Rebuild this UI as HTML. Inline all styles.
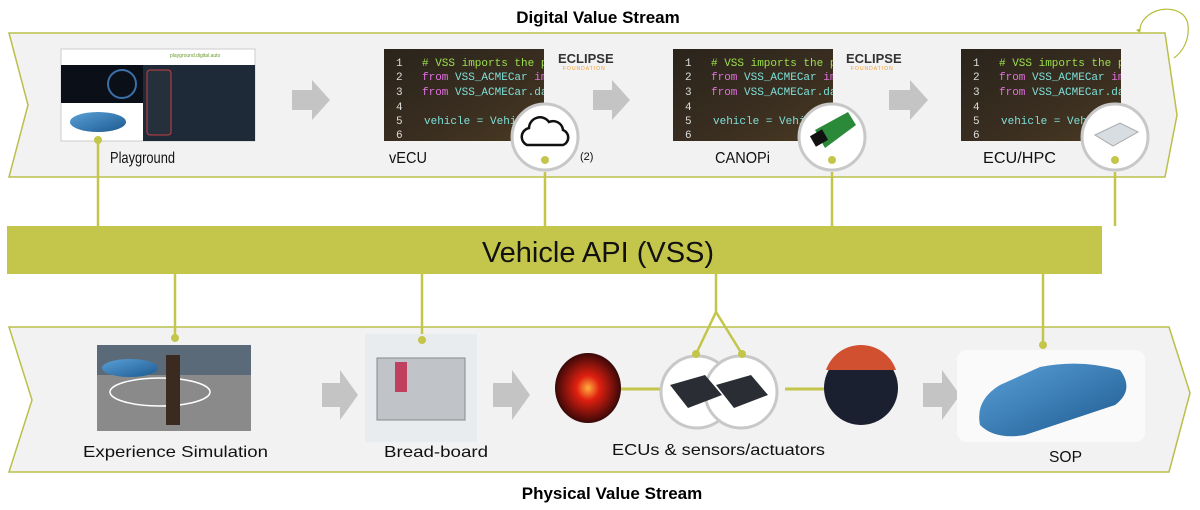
<!DOCTYPE html>
<html><head><meta charset="utf-8"><style>
html,body{margin:0;padding:0;background:#fff;}
svg{display:block;font-family:"Liberation Sans",sans-serif;}
</style></head><body>
<svg width="1200" height="510" viewBox="0 0 1200 510" xmlns="http://www.w3.org/2000/svg">
<defs>
<linearGradient id="code" x1="0" y1="0" x2="1" y2="1"><stop offset="0" stop-color="#2a241c"/><stop offset="0.6" stop-color="#3a2e20"/><stop offset="1" stop-color="#4a3a22"/></linearGradient>
<radialGradient id="red"><stop offset="0" stop-color="#ffb040"/><stop offset="0.35" stop-color="#e02010"/><stop offset="1" stop-color="#3a0808"/></radialGradient>
<linearGradient id="carb" x1="0" y1="0" x2="1" y2="1"><stop offset="0" stop-color="#5aa0d8"/><stop offset="1" stop-color="#1d5a90"/></linearGradient>
<clipPath id="cp"><rect x="0" y="0" width="160" height="92"/></clipPath>
</defs>
<text x="598" y="23" text-anchor="middle" font-size="17" font-weight="bold" fill="#000">Digital Value Stream</text>
<text x="612" y="499" text-anchor="middle" font-size="17" font-weight="bold" fill="#000">Physical Value Stream</text>
<path d="M1140 28 C1145 5,1185 2,1188 25 C1190 45,1178 55,1174 58" fill="none" stroke="#b5bd3a" stroke-width="1.2"/>
<path d="M1136 30 l5 -2 l-1 5 z" fill="#b5bd3a"/>
<polygon points="9,33 1165,33 1177,115 1165,177 9,177 28,105" fill="#f2f2f2" stroke="#b9c04a" stroke-width="1.5"/>
<polygon points="9,327 1169,327 1190,393 1169,472 9,472 32,400" fill="#f2f2f2" stroke="#b9c04a" stroke-width="1.5"/>
<rect x="7" y="226" width="1095" height="48" fill="#c3c64b"/>
<text x="598" y="262" text-anchor="middle" font-size="29" fill="#111">Vehicle API (VSS)</text>
<g stroke="#c3c64b" stroke-width="2.5" fill="none">
<line x1="98" y1="140" x2="98" y2="226"/>
<line x1="545" y1="172" x2="545" y2="226"/>
<line x1="832" y1="172" x2="832" y2="226"/>
<line x1="1115" y1="172" x2="1115" y2="226"/>
<line x1="175" y1="274" x2="175" y2="338"/>
<line x1="422" y1="274" x2="422" y2="340"/>
<line x1="716" y1="274" x2="716" y2="312"/>
<polyline points="696,354 716,312 742,354"/>
<line x1="1043" y1="274" x2="1043" y2="345"/>
<line x1="620" y1="389" x2="662" y2="389" stroke-width="3"/>
<line x1="785" y1="389" x2="828" y2="389" stroke-width="3"/>
</g>
<g fill="#c4c4c4">
<polygon points="292,90 312,90 312,80 330,100 312,120 312,110 292,110"/>
<polygon points="593,90 612,90 612,80 630,100 612,120 612,110 593,110"/>
<polygon points="889,90 910,90 910,80 928,100 910,120 910,110 889,110"/>
<polygon points="322,383 340,383 340,370 358,395 340,420 340,407 322,407"/>
<polygon points="493,383 512,383 512,370 530,395 512,420 512,407 493,407"/>
<polygon points="923,383 942,383 942,370 960,395 942,420 942,407 923,407"/>
</g>
<rect x="61" y="49" width="194" height="92" fill="#fff" stroke="#ccc"/>
<rect x="61" y="65" width="82" height="38" fill="#0b0f18"/>
<circle cx="122" cy="84" r="14" fill="none" stroke="#3a6fa8" stroke-width="2"/>
<rect x="143" y="65" width="112" height="76" fill="#1e2a38"/>
<rect x="147" y="70" width="24" height="65" rx="3" fill="#26303c" stroke="#c84040"/>
<text x="170" y="57" font-size="5" fill="#6a9c2a">playground.digital.auto</text>
<ellipse cx="98" cy="122" rx="28" ry="10" fill="url(#carb)"/>
<circle cx="98" cy="140" r="4" fill="#c3c64b"/>
<text x="110" y="163" font-size="16" fill="#111" textLength="65" lengthAdjust="spacingAndGlyphs">Playground</text>
<g font-family="Liberation Mono,monospace" font-size="11">
<g transform="translate(384,49)">
<rect width="160" height="92" fill="url(#code)"/>
<g clip-path="url(#cp)">
<text x="12" y="17" fill="#ddd">1</text><text x="38" y="17" fill="#9be04a"># VSS imports the pla</text>
<text x="12" y="31" fill="#ddd">2</text><text x="38" y="31" fill="#e070e0">from <tspan fill="#7ee0d8">VSS_ACMECar</tspan> impo</text>
<text x="12" y="46" fill="#ddd">3</text><text x="38" y="46" fill="#e070e0">from <tspan fill="#7ee0d8">VSS_ACMECar.dash</tspan></text>
<text x="12" y="61" fill="#ddd">4</text>
<text x="12" y="75" fill="#ddd">5</text><text x="40" y="75" fill="#7ee0d8">vehicle = Vehic</text>
<text x="12" y="89" fill="#ddd">6</text>
</g></g>
<g transform="translate(673,49)">
<rect width="160" height="92" fill="url(#code)"/>
<g clip-path="url(#cp)">
<text x="12" y="17" fill="#ddd">1</text><text x="38" y="17" fill="#9be04a"># VSS imports the pla</text>
<text x="12" y="31" fill="#ddd">2</text><text x="38" y="31" fill="#e070e0">from <tspan fill="#7ee0d8">VSS_ACMECar</tspan> impo</text>
<text x="12" y="46" fill="#ddd">3</text><text x="38" y="46" fill="#e070e0">from <tspan fill="#7ee0d8">VSS_ACMECar.dash</tspan></text>
<text x="12" y="61" fill="#ddd">4</text>
<text x="12" y="75" fill="#ddd">5</text><text x="40" y="75" fill="#7ee0d8">vehicle = Vehic</text>
<text x="12" y="89" fill="#ddd">6</text>
</g></g>
<g transform="translate(961,49)">
<rect width="160" height="92" fill="url(#code)"/>
<g clip-path="url(#cp)">
<text x="12" y="17" fill="#ddd">1</text><text x="38" y="17" fill="#9be04a"># VSS imports the pla</text>
<text x="12" y="31" fill="#ddd">2</text><text x="38" y="31" fill="#e070e0">from <tspan fill="#7ee0d8">VSS_ACMECar</tspan> impo</text>
<text x="12" y="46" fill="#ddd">3</text><text x="38" y="46" fill="#e070e0">from <tspan fill="#7ee0d8">VSS_ACMECar.dash</tspan></text>
<text x="12" y="61" fill="#ddd">4</text>
<text x="12" y="75" fill="#ddd">5</text><text x="40" y="75" fill="#7ee0d8">vehicle = Vehi</text>
<text x="12" y="89" fill="#ddd">6</text>
</g></g>
</g>
<text x="558" y="63" font-size="13" font-weight="bold" fill="#333">ECLIPSE</text>
<text x="563" y="70" font-size="5" fill="#f0a030" letter-spacing="1">FOUNDATION</text>
<text x="846" y="63" font-size="13" font-weight="bold" fill="#333">ECLIPSE</text>
<text x="851" y="70" font-size="5" fill="#f0a030" letter-spacing="1">FOUNDATION</text>
<circle cx="545" cy="137" r="33" fill="#fff" stroke="#c8c8c8" stroke-width="3"/>
<path d="M527 145 h36 a8 8 0 0 0 0 -15 a10 10 0 0 0 -14 -8 a11 11 0 0 0 -20 6 a9 9 0 0 0 -2 17 z" fill="none" stroke="#111" stroke-width="2.5"/>
<circle cx="545" cy="160" r="4" fill="#c3c64b"/>
<text x="580" y="160" font-size="11" fill="#111">(2)</text>
<circle cx="832" cy="137" r="33" fill="#fff" stroke="#c8c8c8" stroke-width="3"/>
<polygon points="815,130 848,112 856,125 825,148" fill="#2a8a3a"/>
<rect x="812" y="132" width="14" height="12" fill="#111" transform="rotate(-30 819 138)"/>
<circle cx="832" cy="160" r="4" fill="#c3c64b"/>
<circle cx="1115" cy="137" r="33" fill="#fff" stroke="#c8c8c8" stroke-width="3"/>
<polygon points="1095,135 1120,123 1138,132 1113,146" fill="#d8dde2" stroke="#aaa"/>
<circle cx="1115" cy="160" r="4" fill="#c3c64b"/>
<g font-size="16" fill="#111">
<text x="389" y="163" textLength="38" lengthAdjust="spacingAndGlyphs">vECU</text>
<text x="715" y="163" textLength="55" lengthAdjust="spacingAndGlyphs">CANOPi</text>
<text x="983" y="163" textLength="73" lengthAdjust="spacingAndGlyphs">ECU/HPC</text>
</g>
<rect x="97" y="345" width="154" height="86" fill="#8a8a8a"/>
<rect x="97" y="345" width="154" height="30" fill="#5a6a78"/>
<ellipse cx="130" cy="368" rx="28" ry="9" fill="url(#carb)"/>
<ellipse cx="160" cy="392" rx="50" ry="14" fill="none" stroke="#fff" stroke-width="1.5"/>
<rect x="166" y="355" width="14" height="70" fill="#3a2a20"/>
<circle cx="175" cy="338" r="4" fill="#c3c64b"/>
<rect x="365" y="334" width="112" height="108" fill="#e8ecef"/>
<rect x="377" y="358" width="88" height="62" fill="#c0c4c8" stroke="#888"/>
<rect x="395" y="362" width="12" height="30" fill="#c04060"/>
<circle cx="422" cy="340" r="4" fill="#c3c64b"/>
<ellipse cx="588" cy="388" rx="33" ry="35" fill="url(#red)"/>
<circle cx="697" cy="392" r="36" fill="#fff" stroke="#c8c8c8" stroke-width="3"/>
<circle cx="741" cy="392" r="36" fill="#fff" stroke="#c8c8c8" stroke-width="3"/>
<polygon points="670,385 705,375 722,395 688,408" fill="#2a2e34"/>
<polygon points="716,385 751,375 768,395 734,408" fill="#2a2e34"/>
<circle cx="696" cy="354" r="4" fill="#c3c64b"/>
<circle cx="742" cy="354" r="4" fill="#c3c64b"/>
<ellipse cx="861" cy="388" rx="37" ry="37" fill="#1a2030"/>
<path d="M826 370 a37 37 0 0 1 70 0 z" fill="#d05030"/>
<rect x="957" y="350" width="188" height="92" rx="10" fill="#fafafa"/>
<path d="M980 425 q-5 -25 20 -40 l40 -18 q40 -8 80 3 q15 20 -5 35 l-90 30 q-30 5 -45 -10 z" fill="url(#carb)"/>
<circle cx="1043" cy="345" r="4" fill="#c3c64b"/>
<g font-size="16" fill="#111">
<text x="83" y="457" textLength="185" lengthAdjust="spacingAndGlyphs">Experience Simulation</text>
<text x="384" y="457" textLength="104" lengthAdjust="spacingAndGlyphs">Bread-board</text>
<text x="612" y="455" textLength="213" lengthAdjust="spacingAndGlyphs">ECUs &amp; sensors/actuators</text>
<text x="1049" y="462" textLength="33" lengthAdjust="spacingAndGlyphs">SOP</text>
</g>
</svg>
</body></html>
